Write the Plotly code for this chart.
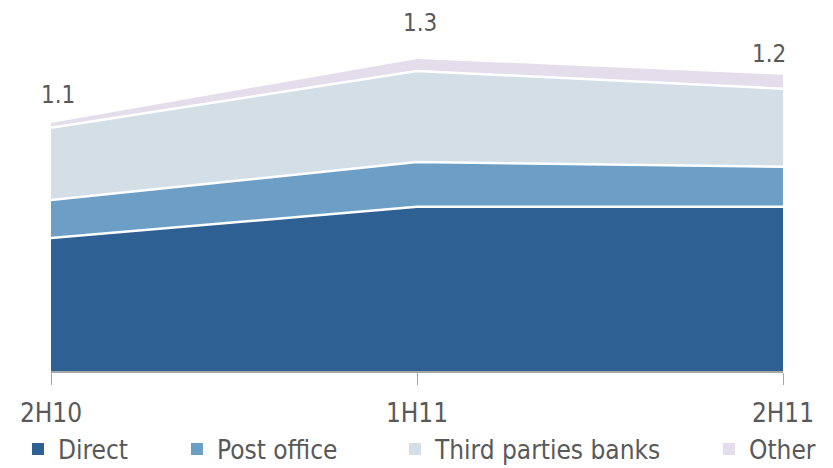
import plotly.graph_objects as go

categories = ["2H10", "1H11", "2H11"]
direct = [0.746, 0.842, 0.842]
post_office = [0.117, 0.138, 0.123]
third_parties = [0.222, 0.280, 0.240]
other = [0.015, 0.037, 0.043]
total_labels = ["1.1", "1.3", "1.2"]
series_names = ["Direct", "Post office", "Third parties banks", "Other"]

colors = ["#2E6094", "#6C9EC6", "#D3DEE7", "#E4DDEB"]
legend_x = [-0.0451, 0.1721, 0.4699, 0.8989]

font_family = "DejaVu Sans Condensed, Liberation Sans Narrow, DejaVu Sans"
fig = go.Figure()
cum = [0.0] * len(categories)
for i, (name, vals) in enumerate(zip(series_names, [direct, post_office, third_parties, other])):
    cum = [c + v for c, v in zip(cum, vals)]
    last = i == len(series_names) - 1
    fig.add_trace(go.Scatter(
        x=categories, y=cum, name=name, mode="lines",
        fill="tozeroy" if i == 0 else "tonexty",
        fillcolor=colors[i],
        line=dict(color="white" if not last else colors[i], width=2.5 if not last else 0),
        hoverinfo="skip", showlegend=False,
    ))

legend_layouts = {}
for i, name in enumerate(series_names):
    key = "legend" if i == 0 else f"legend{i + 1}"
    fig.add_trace(go.Scatter(
        x=[None], y=[None], mode="markers", name=name,
        marker=dict(symbol="square", size=12, color=colors[i]),
        legend=key, showlegend=True,
    ))
    legend_layouts[key] = dict(
        orientation="h", x=legend_x[i], xanchor="left", y=-0.228, yanchor="middle",
        font=dict(size=26, color="#595959", family=font_family),
        itemwidth=30, bgcolor="rgba(0,0,0,0)",
    )

label_shift = [(7, 12), (3, 20), (-14, 5)]
for cat, tot, lab, (xs, ys) in zip(categories, cum, total_labels, label_shift):
    fig.add_annotation(x=cat, y=tot, text=lab, showarrow=False,
                       xshift=xs, yshift=ys, yanchor="bottom",
                       font=dict(size=24, color="#595959"))

fig.update_layout(
    width=825, height=460,
    margin=dict(l=43, r=50, t=20, b=97, autoexpand=False),
    plot_bgcolor="white", paper_bgcolor="white",
    font=dict(family=font_family, size=26, color="#595959"),
    showlegend=True,
    xaxis=dict(range=[0, 2], showline=True, linecolor="#A6A6A6", linewidth=1.5,
               ticks="outside", ticklen=12, tickcolor="#A6A6A6", showgrid=False,
               automargin=False, ticklabelstandoff=6,
               tickfont=dict(size=26, color="#595959")),
    yaxis=dict(range=[0.337, 1.392], visible=False, showgrid=False),
    **legend_layouts,
)

fig.write_html("out.html")
